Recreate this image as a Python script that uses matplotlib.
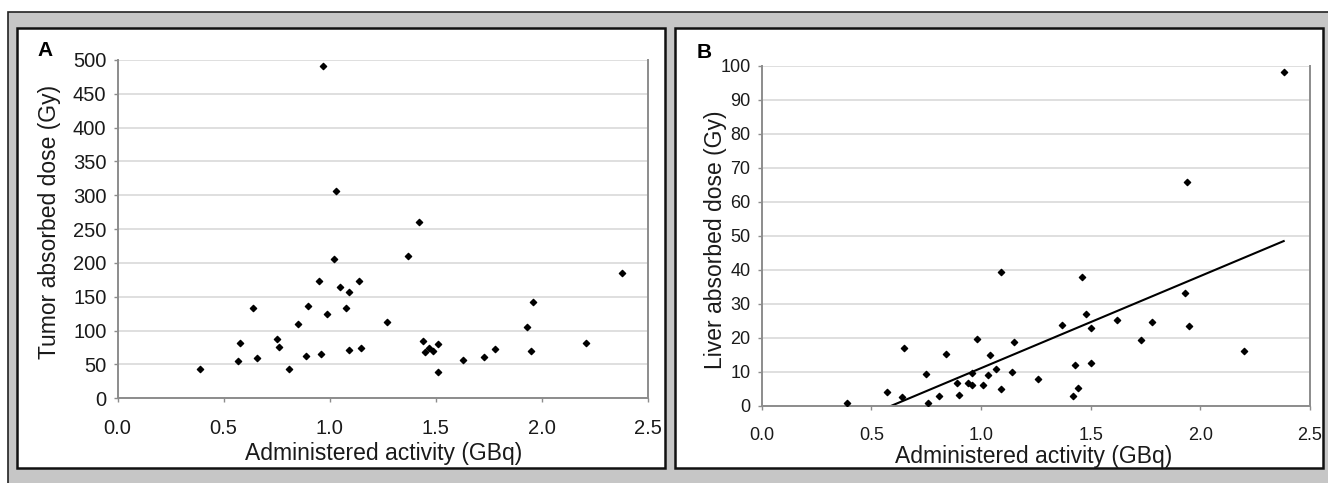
import numpy as np
import matplotlib
matplotlib.use("Agg")
import matplotlib.pyplot as plt
from matplotlib.patches import Rectangle

plt.rcParams["font.family"] = ["Liberation Sans", "DejaVu Sans"]

# panel A: tumor absorbed dose vs administered activity
act_a = [0.39, 0.57, 0.58, 0.64, 0.66, 0.75, 0.76, 0.81, 0.85, 0.89,
         0.90, 0.95, 0.96, 0.97, 0.99, 1.02, 1.03, 1.05, 1.08, 1.09,
         1.09, 1.14, 1.15, 1.27, 1.37, 1.42, 1.44, 1.45, 1.47, 1.49,
         1.51, 1.51, 1.63, 1.73, 1.78, 1.93, 1.95, 1.96, 2.21, 2.38]
tumor_dose = [44, 55, 81, 133, 60, 87, 76, 43, 110, 62,
              137, 173, 66, 491, 125, 206, 307, 165, 134, 157,
              71, 173, 75, 113, 211, 260, 84, 69, 75, 70,
              80, 39, 56, 61, 73, 106, 70, 142, 81, 185]

# panel B: liver absorbed dose vs administered activity
act_b = [0.39, 0.57, 0.64, 0.65, 0.75, 0.76, 0.81, 0.84, 0.89, 0.90,
         0.94, 0.96, 0.96, 0.98, 1.01, 1.03, 1.04, 1.07, 1.09, 1.09,
         1.14, 1.15, 1.26, 1.37, 1.42, 1.43, 1.44, 1.46, 1.48, 1.50,
         1.50, 1.62, 1.73, 1.78, 1.93, 1.94, 1.95, 2.20, 2.38]
liver_dose = [0.7, 4.0, 2.6, 17.0, 9.3, 0.7, 2.9, 15.3, 6.6, 3.1,
              6.6, 6.1, 9.7, 19.6, 6.1, 9.0, 14.9, 10.9, 39.5, 5.0,
              10.0, 18.7, 7.8, 23.9, 3.0, 12.0, 5.1, 37.9, 27.0, 23.0,
              12.5, 25.2, 19.3, 24.6, 33.1, 65.9, 23.6, 16.2, 98.1]

x_ticks = [0.0, 0.5, 1.0, 1.5, 2.0, 2.5]
y_ticks_a = list(range(0, 501, 50))
y_ticks_b = list(range(0, 101, 10))

W, H = 1328, 483
fig = plt.figure(figsize=(W / 100, H / 100), dpi=100)
fig.patch.set_facecolor("white")


def px_rect(x0, y0, x1, y1):
    # pixel box (top-left origin) -> figure fraction [l, b, w, h]
    return [x0 / W, (H - y1) / H, (x1 - x0) / W, (y1 - y0) / H]


def frac(x, y):
    return x / W, (H - y) / H


# grey backdrop with outer frame, then white panels
l, b, w, h = px_rect(8, 12, W + 20, H + 20)
fig.patches.append(Rectangle((l, b), w, h, transform=fig.transFigure,
                             facecolor="#c6c6c6", edgecolor="#222222", lw=1.2, zorder=-3))
for box in [(17, 28, 665, 468), (675, 28, 1323, 468)]:
    l, b, w, h = px_rect(*box)
    fig.patches.append(Rectangle((l, b), w, h, transform=fig.transFigure,
                                 facecolor="white", edgecolor="#111111", lw=1.8, zorder=-2))


def style_axes(ax, ylim, yticks, tick_fs):
    ax.set_xlim(0, 2.5)
    ax.set_ylim(*ylim)
    ax.set_xticks(x_ticks)
    ax.set_xticklabels([f"{t:.1f}" for t in x_ticks])
    ax.set_yticks(yticks)
    ax.grid(axis="y", color="#dcdcdc", lw=1.3, zorder=0)
    ax.set_axisbelow(True)
    ax.spines["top"].set_visible(False)
    for s in ["left", "bottom", "right"]:
        ax.spines[s].set_color("#8c8c8c")
        ax.spines[s].set_linewidth(1.4)
    ax.tick_params(axis="both", colors="#8c8c8c", labelcolor="#1a1a1a",
                   labelsize=tick_fs, length=3, width=1)
    ax.tick_params(axis="x", pad=12)
    ax.tick_params(axis="y", pad=5)
    ax.patch.set_alpha(0)


# ---- panel A
axA = fig.add_axes(px_rect(117.5, 60, 647.5, 398.3))
axA.scatter(act_a, tumor_dose, marker="D", s=10, color="black", zorder=3)
style_axes(axA, (0, 500), y_ticks_a, 14.5)
axA.set_xlabel("Administered activity (GBq)", fontsize=16.5, color="#1a1a1a")
axA.set_ylabel("Tumor absorbed dose (Gy)", fontsize=16.5, color="#1a1a1a")
axA.xaxis.set_label_coords((384 - 117.5) / 530, (398.3 - 442) / 338.3)
axA.yaxis.set_label_coords((61 - 117.5) / 530, (398.3 - 222) / 338.3)
fig.text(*frac(45, 51), "A", fontsize=15, fontweight="bold", ha="center", va="center")

# ---- panel B
axB = fig.add_axes(px_rect(761.7, 66, 1310, 405.7))
axB.scatter(act_b, liver_dose, marker="D", s=10, color="black", zorder=3)
slope, icpt = np.polyfit(act_b, liver_dose, 1)
xs = np.array([min(act_b), max(act_b)])
axB.plot(xs, slope * xs + icpt, color="black", lw=1.5, zorder=2)
style_axes(axB, (0, 100), y_ticks_b, 13)
axB.set_xlabel("Administered activity (GBq)", fontsize=16.5, color="#1a1a1a")
axB.set_ylabel("Liver absorbed dose (Gy)", fontsize=16.5, color="#1a1a1a")
axB.xaxis.set_label_coords((1034 - 761.7) / 548.3, (405.7 - 445) / 339.7)
axB.yaxis.set_label_coords((727 - 761.7) / 548.3, (405.7 - 240) / 339.7)
fig.text(*frac(704, 52), "B", fontsize=15, fontweight="bold", ha="center", va="center")

fig.savefig("out.png", dpi=100)
